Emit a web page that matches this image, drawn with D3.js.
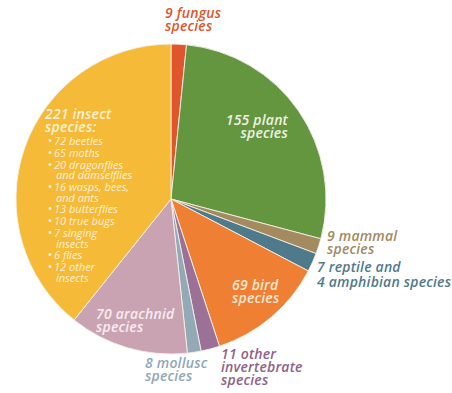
<!DOCTYPE html>
<html>
<head>
<meta charset="utf-8">
<script src="https://cdn.jsdelivr.net/npm/d3@7"></script>
<style>
  html, body { margin: 0; padding: 0; background: #fff; }
  svg { display: block; }
  text { font-family: "Open Sans", Lato, sans-serif; font-style: italic; font-weight: 600; }
</style>
</head>
<body>
<svg id="chart" width="452" height="393"></svg>
<script>
// Species counts by group, clockwise from 12 o'clock
const groups = ["fungus", "plant", "mammal", "reptile & amphibian", "bird",
                "other invertebrate", "mollusc", "arachnid", "insect"];
const counts = [9, 155, 9, 11, 69, 11, 8, 70, 221];

// Breakdown of the insect count
const insectGroups = ["beetles", "moths", "dragonflies and damselflies", "wasps, bees, and ants",
                      "butterflies", "true bugs", "singing insects", "flies", "other insects"];
const insectCounts = [72, 65, 20, 16, 13, 10, 7, 6, 12];

const fills = ["#E0562C", "#64953F", "#A38A5F", "#4F7A8C", "#EF7F33",
               "#9C7197", "#93AAB6", "#C9A3B2", "#F6BA39"];

const svg = d3.select("#chart");
const cx = 171, cy = 199, R = 155;

const pie = d3.pie().sort(null).value(d => d).startAngle(0).endAngle(2 * Math.PI);
const arc = d3.arc().innerRadius(0).outerRadius(R);

const g = svg.append("g").attr("transform", `translate(${cx},${cy})`);
g.selectAll("path")
  .data(pie(counts))
  .join("path")
  .attr("d", arc)
  .attr("fill", (d, i) => fills[i])
  .attr("stroke", "#f4efe6")
  .attr("stroke-width", 0.9)
  .attr("stroke-linejoin", "round");

// Group labels placed beside or inside their slices
const labels = [
  { lines: [`${counts[0]} fungus`, "species"], x: 165, y: 18, anchor: "start", color: "#E0562C" },
  { lines: [`${counts[1]} plant`, "species"], x: 288, y: 125, anchor: "end", color: "#EEF2E0" },
  { lines: [`${counts[2]} mammal`, "species"], x: 327, y: 241, anchor: "start", color: "#A38A5F" },
  { lines: ["7 reptile and", "4 amphibian species"], x: 317, y: 272, anchor: "start", color: "#4F7A8C", lh: 14.5 },
  { lines: [`${counts[4]} bird`, "species"], x: 232, y: 290, anchor: "start", color: "#FCE6D2" },
  { lines: [`${counts[5]} other`, "invertebrate", "species"], x: 221, y: 359, anchor: "start", color: "#8E628C" },
  { lines: [`${counts[6]} mollusc`, "species"], x: 145, y: 368, anchor: "start", color: "#8FA8B8" },
  { lines: [`${counts[7]} arachnid`, "species"], x: 96, y: 319, anchor: "start", color: "#F7ECEF" },
  { lines: [`${counts[8]} insect`, "species:"], x: 45, y: 119, anchor: "start", color: "#FDF1D6" }
];

labels.forEach(l => {
  const t = svg.append("text")
    .attr("x", l.x).attr("y", l.y)
    .attr("text-anchor", l.anchor)
    .attr("fill", l.color)
    .attr("font-size", 14)
    .attr("letter-spacing", 0.2);
  l.lines.forEach((s, k) => {
    t.append("tspan").attr("x", l.x).attr("dy", k === 0 ? 0 : (l.lh || 12.8)).text(s);
  });
});

// Insect breakdown list
const wrap = [["beetles"], ["moths"], ["dragonflies", "and damselflies"], ["wasps, bees,", "and ants"],
              ["butterflies"], ["true bugs"], ["singing", "insects"], ["flies"], ["other", "insects"]];
let y = 145;
const list = svg.append("g").attr("fill", "#FDF1D6").attr("font-size", 11);
insectCounts.forEach((c, i) => {
  list.append("text").attr("x", 48).attr("y", y).style("font-style", "normal").text("•");
  wrap[i].forEach((s, k) => {
    list.append("text")
      .attr("x", k === 0 ? 54 : 56)
      .attr("y", y)
      .style("font-weight", 400)
      .text(k === 0 ? `${c} ${s}` : s);
    if (k < wrap[i].length - 1) y += 10.6;
  });
  y += 11.8;
});
</script>
</body>
</html>
